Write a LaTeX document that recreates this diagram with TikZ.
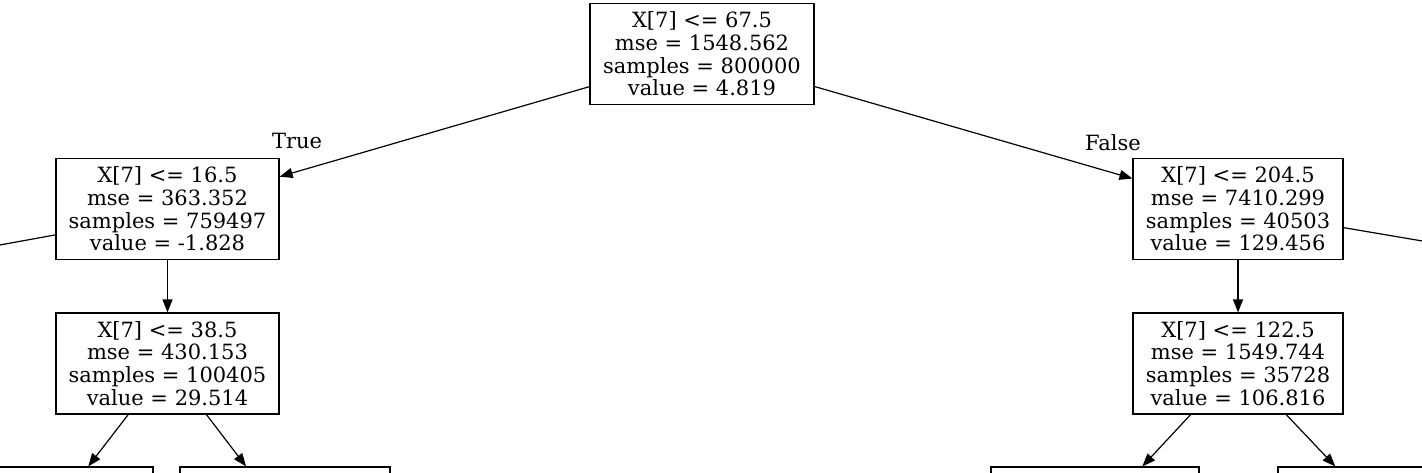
\documentclass[tikz,border=0pt]{standalone}
\usepackage{fontspec}
\setmainfont{DejaVu Serif}
\usetikzlibrary{arrows.meta}
\begin{document}
\begin{tikzpicture}[x=1pt,y=-1pt,
  box/.style={draw,line width=1.2pt,rectangle,inner sep=0pt,align=center,
    font=\fontsize{21}{22.7}\selectfont,minimum height=101pt},
  edge/.style={line width=1.2pt,-{Triangle[length=13pt,width=10pt]}},
  plain/.style={line width=1.2pt},
  lbl/.style={font=\fontsize{21}{22.7}\selectfont,inner sep=0pt}]
\clip (0,0) rectangle (1422,472);
\node[box,minimum width=224pt] (root) at (702,54) {X[7] <= 67.5\\mse = 1548.562\\samples = 800000\\value = 4.819};
\node[box,minimum width=223pt] (l1) at (167.5,209) {X[7] <= 16.5\\mse = 363.352\\samples = 759497\\value = -1.828};
\node[box,minimum width=210pt] (r1) at (1238,209) {X[7] <= 204.5\\mse = 7410.299\\samples = 40503\\value = 129.456};
\node[box,minimum width=223pt] (l2) at (167.5,363.5) {X[7] <= 38.5\\mse = 430.153\\samples = 100405\\value = 29.514};
\node[box,minimum width=210pt] (r2) at (1238,363.5) {X[7] <= 122.5\\mse = 1549.744\\samples = 35728\\value = 106.816};
\node[box,minimum width=208pt] (ll) at (49,517.5) {};
\node[box,minimum width=210pt] (lr) at (285,517.5) {};
\node[box,minimum width=208pt] (rl) at (1095,517.5) {};
\node[box,minimum width=211pt] (rr) at (1383.5,517.5) {};
\coordinate (offL) at (-20,248.6);
\coordinate (offR) at (1440,244);
\draw[edge] (root) -- (l1);
\draw[edge] (root) -- (r1);
\draw[edge] (l1) -- (l2);
\draw[edge] (r1) -- (r2);
\draw[edge] (l2) -- (ll);
\draw[edge] (l2) -- (lr);
\draw[edge] (r2) -- (rl);
\draw[edge] (r2) -- (rr);
\draw[plain] (l1.193) -- (offL);
\draw[plain] (r1.350) -- (offR);
\node[lbl] (t) at (297,141) {True};
\node[lbl] (f) at (1113,143) {False};
\end{tikzpicture}
\end{document}
